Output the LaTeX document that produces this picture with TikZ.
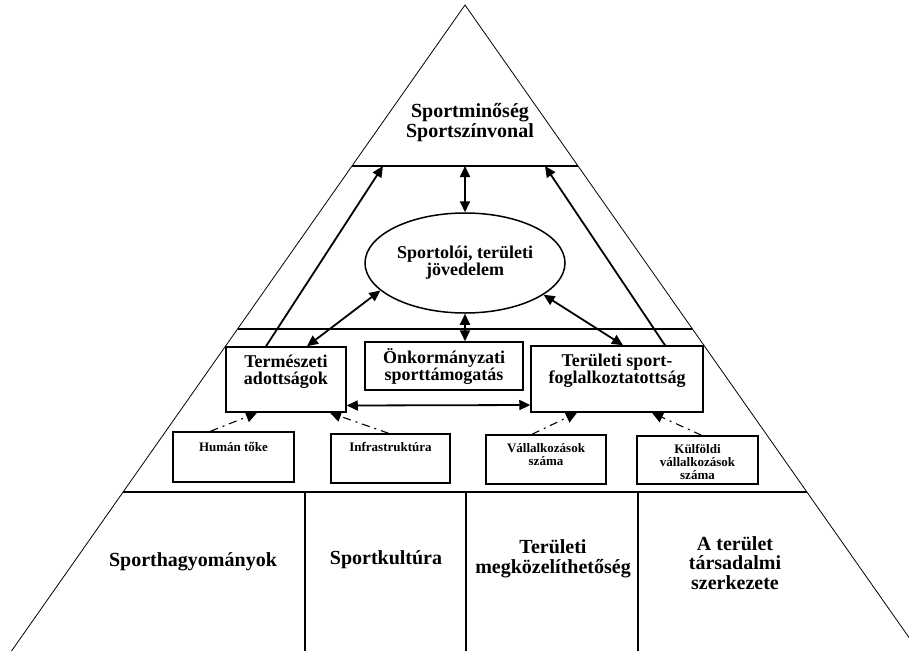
\documentclass[tikz,border=0pt]{standalone}
\usepackage{fontspec}
\setmainfont{Liberation Serif}
\usetikzlibrary{shapes.geometric,arrows.meta}
\begin{document}
\begin{tikzpicture}[x=1pt,y=-1pt,
  side/.style={line width=0.8pt},
  hline/.style={line width=1.1pt},
  boxnode/.style={draw,line width=1.5pt,inner sep=0pt,rectangle},
  txtbig/.style={inner sep=0pt,align=center,font=\bfseries\fontsize{20}{19.5}\selectfont},
  txtmid/.style={inner sep=0pt,align=center,font=\bfseries\fontsize{18}{17}\selectfont},
  txtsmall/.style={inner sep=0pt,align=center,font=\bfseries\fontsize{13}{13}\selectfont},
  solidarrow/.style={line width=1.8pt,-{Triangle[length=11pt,width=10pt]}},
  dblarrow/.style={line width=1.8pt,{Triangle[length=11pt,width=10pt]}-{Triangle[length=11pt,width=10pt]}},
  dasharrow/.style={line width=1.1pt,dash pattern=on 8pt off 5pt on 2pt off 5pt,-{Triangle[length=11pt,width=11pt]}}
]
\useasboundingbox (0,0) rectangle (909,651);
\begin{scope}
\clip (0,0) rectangle (909,651);
% pyramid
\draw[side] (11.5,651) -- (465,5) -- (918.5,651);
\draw[hline] (352,166) -- (578,166);
\draw[hline] (237.6,329) -- (692.4,329);
\draw[hline] (123.1,492) -- (806.9,492);
\draw[hline] (305,492) -- (305,651);
\draw[hline] (466,492) -- (466,651);
\draw[hline] (638,492) -- (638,651);
\end{scope}

% top text
\node[txtbig] (top) at (470,122.5) {Sportminőség\\Sportszínvonal};

% free ends on the top line
\coordinate (tl) at (383,166);
\coordinate (tm) at (465,166);
\coordinate (tr) at (545,166);

% ellipse
\node[draw,ellipse,line width=1.5pt,minimum width=200pt,minimum height=100pt,inner sep=0pt,txtmid] (jov) at (465,263) {Sportolói, területi\\jövedelem};

% middle boxes
\node[boxnode,minimum width=120pt,minimum height=65pt] (nat) at (286,379.5) {};
\node[txtmid] (natt) at (286,371.5) {Természeti\\adottságok};
\node[boxnode,minimum width=158pt,minimum height=48pt,txtmid] (onk) at (444,366) {Önkormányzati\\sporttámogatás};
\node[boxnode,minimum width=172pt,minimum height=66pt] (ter) at (617,379) {};
\node[txtmid] (tert) at (617,371) {Területi sport-\\foglalkoztatottság};

% small boxes
\node[boxnode,minimum width=121pt,minimum height=50pt] (hum) at (233.5,457) {};
\node[txtsmall] (humt) at (233.5,447) {Humán tőke};
\node[boxnode,minimum width=119pt,minimum height=49pt] (inf) at (390.5,458.5) {};
\node[txtsmall] (inft) at (390.5,447) {Infrastruktúra};
\node[boxnode,minimum width=120pt,minimum height=49pt] (val) at (546,459.5) {};
\node[txtsmall] (valt) at (546,454.5) {Vállalkozások\\száma};
\node[boxnode,minimum width=121pt,minimum height=48pt] (kul) at (697.5,460) {};
\node[txtsmall] (kult) at (697.5,462) {Külföldi\\vállalkozások\\száma};

% bottom texts
\node[txtbig] (b1) at (193,562) {Sporthagyományok};
\node[txtbig] (b2) at (386,560) {Sportkultúra};
\node[txtbig] (b3) at (553,559) {Területi\\megközelíthetőség};
\node[txtbig] (b4) at (735,563) {A terület\\társadalmi\\szerkezete};

% arrows
\draw[solidarrow] ([xshift=-20pt]nat.north) -- (tl);
\draw[solidarrow] ([xshift=48pt]ter.north) -- (tr);
\draw[dblarrow] (jov.north) -- (tm);
\draw[dblarrow] (jov.198) -- ([xshift=21pt]nat.north);
\draw[dblarrow] (jov.338) -- ([xshift=6pt]ter.north);
\draw[dblarrow] (jov.south) -- ([xshift=21pt]onk.north);
\draw[dblarrow] ([yshift=-26pt]nat.east) -- ([yshift=-26pt]ter.west);

\draw[dasharrow] ([xshift=-23pt]hum.north) -- ([xshift=-29pt]nat.south);
\draw[dasharrow] ([xshift=-2pt]inf.north) -- ([xshift=44pt]nat.south);
\draw[dasharrow] ([xshift=-14pt]val.north) -- ([xshift=-40pt]ter.south);
\draw[dasharrow] ([xshift=4pt]kul.north) -- ([xshift=35pt]ter.south);
\end{tikzpicture}
\end{document}
